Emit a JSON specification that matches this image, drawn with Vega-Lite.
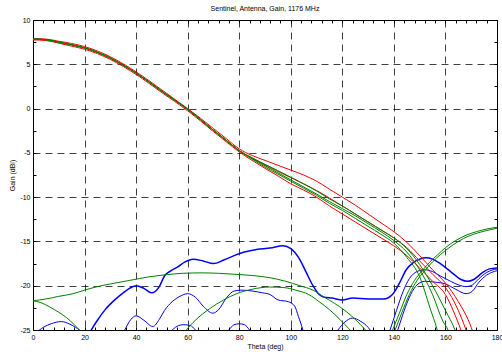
{
 "$schema": "https://vega.github.io/schema/vega-lite/v6.json",
 "width": 464, "height": 310,
 "autosize": {"type": "none"},
 "padding": {"left": 33, "top": 20, "right": 5, "bottom": 22},
 "background": "white",
 "title": {"text": "Sentinel, Antenna, Gain, 1176 MHz", "fontSize": 7, "font": "Liberation Sans", "fontWeight": "normal", "color": "#000", "offset": 4, "anchor": "middle"},
 "config": {"view": {"stroke": "#000", "strokeWidth": 1}},
 "data": {"values": [
  {"id":"B6","set":"set3","theta":0,"gain":-25.3},{"id":"B6","set":"set3","theta":2.5,"gain":-25.0},{"id":"B6","set":"set3","theta":4,"gain":-24.7},{"id":"B6","set":"set3","theta":7,"gain":-24.3},{"id":"B6","set":"set3","theta":11,"gain":-24.05},{"id":"B6","set":"set3","theta":14,"gain":-24.3},{"id":"B6","set":"set3","theta":16.5,"gain":-24.7},{"id":"B6","set":"set3","theta":18,"gain":-25.0},{"id":"B6","set":"set3","theta":20,"gain":-25.6},
  {"id":"B7","set":"set3","theta":50,"gain":-26.5},{"id":"B7","set":"set3","theta":54,"gain":-25},{"id":"B7","set":"set3","theta":56.5,"gain":-24.5},{"id":"B7","set":"set3","theta":58.5,"gain":-24.4},{"id":"B7","set":"set3","theta":61,"gain":-24.5},{"id":"B7","set":"set3","theta":63,"gain":-25},{"id":"B7","set":"set3","theta":66,"gain":-26.5},{"id":"B7","set":"set3","theta":72,"gain":-26.5},{"id":"B7","set":"set3","theta":76,"gain":-25},{"id":"B7","set":"set3","theta":78,"gain":-24.4},{"id":"B7","set":"set3","theta":80,"gain":-24.3},{"id":"B7","set":"set3","theta":82,"gain":-24.4},{"id":"B7","set":"set3","theta":84,"gain":-25},{"id":"B7","set":"set3","theta":87,"gain":-26.5},
  {"id":"B5","set":"set3","theta":34,"gain":-26},{"id":"B5","set":"set3","theta":35.6,"gain":-25},{"id":"B5","set":"set3","theta":38,"gain":-23.8},{"id":"B5","set":"set3","theta":40,"gain":-23.4},{"id":"B5","set":"set3","theta":43,"gain":-23.9},{"id":"B5","set":"set3","theta":46.5,"gain":-24.6},{"id":"B5","set":"set3","theta":49,"gain":-23.8},{"id":"B5","set":"set3","theta":51,"gain":-22.8},{"id":"B5","set":"set3","theta":54,"gain":-21.8},{"id":"B5","set":"set3","theta":57,"gain":-21.2},{"id":"B5","set":"set3","theta":60,"gain":-20.9},{"id":"B5","set":"set3","theta":63,"gain":-21.3},{"id":"B5","set":"set3","theta":66,"gain":-22.3},{"id":"B5","set":"set3","theta":69.8,"gain":-23.1},{"id":"B5","set":"set3","theta":72,"gain":-22.7},{"id":"B5","set":"set3","theta":75,"gain":-21.4},{"id":"B5","set":"set3","theta":78,"gain":-20.6},{"id":"B5","set":"set3","theta":81,"gain":-20.5},{"id":"B5","set":"set3","theta":85,"gain":-20.6},{"id":"B5","set":"set3","theta":89,"gain":-20.8},{"id":"B5","set":"set3","theta":92,"gain":-21.0},{"id":"B5","set":"set3","theta":95,"gain":-21.6},{"id":"B5","set":"set3","theta":99,"gain":-21.8},{"id":"B5","set":"set3","theta":101.5,"gain":-22.3},{"id":"B5","set":"set3","theta":103,"gain":-23.5},{"id":"B5","set":"set3","theta":104.7,"gain":-25},{"id":"B5","set":"set3","theta":106,"gain":-26.5},
  {"id":"B4","set":"set3","theta":116,"gain":-26},{"id":"B4","set":"set3","theta":118.3,"gain":-25},{"id":"B4","set":"set3","theta":121,"gain":-24.1},{"id":"B4","set":"set3","theta":124,"gain":-23.65},{"id":"B4","set":"set3","theta":127,"gain":-24.0},{"id":"B4","set":"set3","theta":130,"gain":-24.7},{"id":"B4","set":"set3","theta":132,"gain":-25.5},
  {"id":"B2","set":"set3","theta":136,"gain":-27},{"id":"B2","set":"set3","theta":138.5,"gain":-25},{"id":"B2","set":"set3","theta":141,"gain":-22.8},{"id":"B2","set":"set3","theta":143.5,"gain":-20.7},{"id":"B2","set":"set3","theta":146,"gain":-19.2},{"id":"B2","set":"set3","theta":149,"gain":-18.4},{"id":"B2","set":"set3","theta":152,"gain":-18.2},{"id":"B2","set":"set3","theta":155,"gain":-18.4},{"id":"B2","set":"set3","theta":158,"gain":-18.9},{"id":"B2","set":"set3","theta":162,"gain":-19.5},{"id":"B2","set":"set3","theta":165,"gain":-19.9},{"id":"B2","set":"set3","theta":168,"gain":-20.1},{"id":"B2","set":"set3","theta":170.5,"gain":-19.9},{"id":"B2","set":"set3","theta":173,"gain":-19.2},{"id":"B2","set":"set3","theta":176,"gain":-18.5},{"id":"B2","set":"set3","theta":180,"gain":-18.1},
  {"id":"B3","set":"set3","theta":139,"gain":-27},{"id":"B3","set":"set3","theta":141.5,"gain":-25},{"id":"B3","set":"set3","theta":144,"gain":-22.8},{"id":"B3","set":"set3","theta":146.5,"gain":-21.0},{"id":"B3","set":"set3","theta":149,"gain":-19.9},{"id":"B3","set":"set3","theta":152,"gain":-19.5},{"id":"B3","set":"set3","theta":156,"gain":-19.6},{"id":"B3","set":"set3","theta":160,"gain":-19.8},{"id":"B3","set":"set3","theta":164,"gain":-20.4},{"id":"B3","set":"set3","theta":168,"gain":-20.9},{"id":"B3","set":"set3","theta":170.5,"gain":-20.6},{"id":"B3","set":"set3","theta":173,"gain":-19.6},{"id":"B3","set":"set3","theta":176,"gain":-18.8},{"id":"B3","set":"set3","theta":180,"gain":-18.3},
  {"id":"B1","set":"set3","theta":20,"gain":-26.5},{"id":"B1","set":"set3","theta":22.6,"gain":-25},{"id":"B1","set":"set3","theta":25,"gain":-23.9},{"id":"B1","set":"set3","theta":28,"gain":-22.7},{"id":"B1","set":"set3","theta":31.7,"gain":-21.6},{"id":"B1","set":"set3","theta":35,"gain":-20.8},{"id":"B1","set":"set3","theta":38,"gain":-20.2},{"id":"B1","set":"set3","theta":40,"gain":-20.0},{"id":"B1","set":"set3","theta":43,"gain":-20.3},{"id":"B1","set":"set3","theta":46,"gain":-20.8},{"id":"B1","set":"set3","theta":49,"gain":-20.1},{"id":"B1","set":"set3","theta":51,"gain":-18.9},{"id":"B1","set":"set3","theta":53,"gain":-18.4},{"id":"B1","set":"set3","theta":56,"gain":-17.9},{"id":"B1","set":"set3","theta":59,"gain":-17.3},{"id":"B1","set":"set3","theta":62,"gain":-17.0},{"id":"B1","set":"set3","theta":66,"gain":-17.2},{"id":"B1","set":"set3","theta":70,"gain":-17.5},{"id":"B1","set":"set3","theta":74,"gain":-17.1},{"id":"B1","set":"set3","theta":78,"gain":-16.6},{"id":"B1","set":"set3","theta":82,"gain":-16.2},{"id":"B1","set":"set3","theta":86.7,"gain":-15.9},{"id":"B1","set":"set3","theta":92,"gain":-15.75},{"id":"B1","set":"set3","theta":97,"gain":-15.5},{"id":"B1","set":"set3","theta":100,"gain":-15.8},{"id":"B1","set":"set3","theta":103,"gain":-16.8},{"id":"B1","set":"set3","theta":106,"gain":-18.5},{"id":"B1","set":"set3","theta":108.6,"gain":-20.0},{"id":"B1","set":"set3","theta":111,"gain":-21.0},{"id":"B1","set":"set3","theta":113,"gain":-21.3},{"id":"B1","set":"set3","theta":116,"gain":-21.4},{"id":"B1","set":"set3","theta":120,"gain":-21.6},{"id":"B1","set":"set3","theta":124,"gain":-21.4},{"id":"B1","set":"set3","theta":130,"gain":-21.5},{"id":"B1","set":"set3","theta":136,"gain":-21.5},{"id":"B1","set":"set3","theta":139.7,"gain":-20.9},{"id":"B1","set":"set3","theta":142,"gain":-19.8},{"id":"B1","set":"set3","theta":144.8,"gain":-18.2},{"id":"B1","set":"set3","theta":147.5,"gain":-17.4},{"id":"B1","set":"set3","theta":150,"gain":-17.0},{"id":"B1","set":"set3","theta":152.5,"gain":-16.85},{"id":"B1","set":"set3","theta":155,"gain":-17.0},{"id":"B1","set":"set3","theta":158,"gain":-17.5},{"id":"B1","set":"set3","theta":162,"gain":-18.4},{"id":"B1","set":"set3","theta":166,"gain":-19.3},{"id":"B1","set":"set3","theta":168.5,"gain":-19.5},{"id":"B1","set":"set3","theta":171,"gain":-19.3},{"id":"B1","set":"set3","theta":174,"gain":-18.6},{"id":"B1","set":"set3","theta":177,"gain":-18.1},{"id":"B1","set":"set3","theta":180,"gain":-18.0},
  {"id":"R1","set":"set1","theta":0,"gain":7.9},{"id":"R1","set":"set1","theta":5,"gain":7.85},{"id":"R1","set":"set1","theta":10,"gain":7.6},{"id":"R1","set":"set1","theta":15,"gain":7.35},{"id":"R1","set":"set1","theta":20,"gain":7.0},{"id":"R1","set":"set1","theta":25,"gain":6.5},{"id":"R1","set":"set1","theta":30,"gain":5.85},{"id":"R1","set":"set1","theta":35,"gain":5.05},{"id":"R1","set":"set1","theta":40,"gain":4.15},{"id":"R1","set":"set1","theta":45,"gain":3.15},{"id":"R1","set":"set1","theta":50,"gain":2.1},{"id":"R1","set":"set1","theta":55,"gain":1.05},{"id":"R1","set":"set1","theta":60,"gain":0.0},{"id":"R1","set":"set1","theta":65,"gain":-1.1},{"id":"R1","set":"set1","theta":70,"gain":-2.25},{"id":"R1","set":"set1","theta":75,"gain":-3.4},{"id":"R1","set":"set1","theta":80,"gain":-4.55},{"id":"R1","set":"set1","theta":85,"gain":-5.3},{"id":"R1","set":"set1","theta":90,"gain":-5.85},{"id":"R1","set":"set1","theta":95,"gain":-6.4},{"id":"R1","set":"set1","theta":100,"gain":-6.95},{"id":"R1","set":"set1","theta":105,"gain":-7.5},{"id":"R1","set":"set1","theta":110,"gain":-8.2},{"id":"R1","set":"set1","theta":115,"gain":-9.1},{"id":"R1","set":"set1","theta":120,"gain":-10.0},{"id":"R1","set":"set1","theta":125,"gain":-10.9},{"id":"R1","set":"set1","theta":130,"gain":-11.9},{"id":"R1","set":"set1","theta":135,"gain":-12.9},{"id":"R1","set":"set1","theta":140,"gain":-13.9},{"id":"R1","set":"set1","theta":145,"gain":-15.1},{"id":"R1","set":"set1","theta":150,"gain":-16.6},{"id":"R1","set":"set1","theta":155,"gain":-18.2},{"id":"R1","set":"set1","theta":160,"gain":-19.7},{"id":"R1","set":"set1","theta":165,"gain":-21.8},{"id":"R1","set":"set1","theta":170,"gain":-24.7},{"id":"R1","set":"set1","theta":173,"gain":-27.5},
  {"id":"R2","set":"set1","theta":0,"gain":7.85},{"id":"R2","set":"set1","theta":5,"gain":7.78},{"id":"R2","set":"set1","theta":10,"gain":7.5},{"id":"R2","set":"set1","theta":15,"gain":7.2},{"id":"R2","set":"set1","theta":20,"gain":6.85},{"id":"R2","set":"set1","theta":25,"gain":6.35},{"id":"R2","set":"set1","theta":30,"gain":5.7},{"id":"R2","set":"set1","theta":35,"gain":4.9},{"id":"R2","set":"set1","theta":40,"gain":4.0},{"id":"R2","set":"set1","theta":45,"gain":3.0},{"id":"R2","set":"set1","theta":50,"gain":1.95},{"id":"R2","set":"set1","theta":55,"gain":0.95},{"id":"R2","set":"set1","theta":60,"gain":-0.1},{"id":"R2","set":"set1","theta":65,"gain":-1.25},{"id":"R2","set":"set1","theta":70,"gain":-2.45},{"id":"R2","set":"set1","theta":75,"gain":-3.6},{"id":"R2","set":"set1","theta":80,"gain":-4.75},{"id":"R2","set":"set1","theta":85,"gain":-5.6},{"id":"R2","set":"set1","theta":90,"gain":-6.35},{"id":"R2","set":"set1","theta":95,"gain":-7.1},{"id":"R2","set":"set1","theta":100,"gain":-7.8},{"id":"R2","set":"set1","theta":105,"gain":-8.5},{"id":"R2","set":"set1","theta":110,"gain":-9.25},{"id":"R2","set":"set1","theta":115,"gain":-10.1},{"id":"R2","set":"set1","theta":120,"gain":-11.0},{"id":"R2","set":"set1","theta":125,"gain":-11.9},{"id":"R2","set":"set1","theta":130,"gain":-12.8},{"id":"R2","set":"set1","theta":135,"gain":-13.7},{"id":"R2","set":"set1","theta":140,"gain":-14.6},{"id":"R2","set":"set1","theta":145,"gain":-15.7},{"id":"R2","set":"set1","theta":150,"gain":-17.2},{"id":"R2","set":"set1","theta":155,"gain":-18.7},{"id":"R2","set":"set1","theta":160,"gain":-20.2},{"id":"R2","set":"set1","theta":165,"gain":-22.8},{"id":"R2","set":"set1","theta":168,"gain":-25.0},{"id":"R2","set":"set1","theta":171,"gain":-27.5},
  {"id":"R3","set":"set1","theta":0,"gain":7.75},{"id":"R3","set":"set1","theta":5,"gain":7.68},{"id":"R3","set":"set1","theta":10,"gain":7.38},{"id":"R3","set":"set1","theta":15,"gain":7.05},{"id":"R3","set":"set1","theta":20,"gain":6.7},{"id":"R3","set":"set1","theta":25,"gain":6.2},{"id":"R3","set":"set1","theta":30,"gain":5.55},{"id":"R3","set":"set1","theta":35,"gain":4.75},{"id":"R3","set":"set1","theta":40,"gain":3.85},{"id":"R3","set":"set1","theta":45,"gain":2.85},{"id":"R3","set":"set1","theta":50,"gain":1.8},{"id":"R3","set":"set1","theta":55,"gain":0.8},{"id":"R3","set":"set1","theta":60,"gain":-0.25},{"id":"R3","set":"set1","theta":65,"gain":-1.4},{"id":"R3","set":"set1","theta":70,"gain":-2.6},{"id":"R3","set":"set1","theta":75,"gain":-3.75},{"id":"R3","set":"set1","theta":80,"gain":-4.9},{"id":"R3","set":"set1","theta":85,"gain":-5.85},{"id":"R3","set":"set1","theta":90,"gain":-6.75},{"id":"R3","set":"set1","theta":95,"gain":-7.6},{"id":"R3","set":"set1","theta":100,"gain":-8.5},{"id":"R3","set":"set1","theta":105,"gain":-9.2},{"id":"R3","set":"set1","theta":110,"gain":-10.0},{"id":"R3","set":"set1","theta":115,"gain":-11.0},{"id":"R3","set":"set1","theta":120,"gain":-11.9},{"id":"R3","set":"set1","theta":125,"gain":-12.8},{"id":"R3","set":"set1","theta":130,"gain":-13.7},{"id":"R3","set":"set1","theta":135,"gain":-14.6},{"id":"R3","set":"set1","theta":140,"gain":-15.5},{"id":"R3","set":"set1","theta":145,"gain":-16.6},{"id":"R3","set":"set1","theta":150,"gain":-18.0},{"id":"R3","set":"set1","theta":155,"gain":-19.5},{"id":"R3","set":"set1","theta":160,"gain":-21.0},{"id":"R3","set":"set1","theta":163,"gain":-22.8},{"id":"R3","set":"set1","theta":166,"gain":-25.0},{"id":"R3","set":"set1","theta":169,"gain":-27.5},
  {"id":"GL1","set":"set2","theta":0,"gain":-21.7},{"id":"GL1","set":"set2","theta":5,"gain":-21.5},{"id":"GL1","set":"set2","theta":10,"gain":-21.2},{"id":"GL1","set":"set2","theta":15.5,"gain":-20.9},{"id":"GL1","set":"set2","theta":20,"gain":-20.5},{"id":"GL1","set":"set2","theta":25,"gain":-20.1},{"id":"GL1","set":"set2","theta":30,"gain":-19.8},{"id":"GL1","set":"set2","theta":37.5,"gain":-19.4},{"id":"GL1","set":"set2","theta":45,"gain":-19.0},{"id":"GL1","set":"set2","theta":52,"gain":-18.75},{"id":"GL1","set":"set2","theta":58,"gain":-18.6},{"id":"GL1","set":"set2","theta":66,"gain":-18.55},{"id":"GL1","set":"set2","theta":72,"gain":-18.6},{"id":"GL1","set":"set2","theta":78,"gain":-18.7},{"id":"GL1","set":"set2","theta":85,"gain":-18.85},{"id":"GL1","set":"set2","theta":92,"gain":-19.1},{"id":"GL1","set":"set2","theta":98,"gain":-19.5},{"id":"GL1","set":"set2","theta":103.5,"gain":-20.0},{"id":"GL1","set":"set2","theta":108.6,"gain":-20.5},{"id":"GL1","set":"set2","theta":113,"gain":-21.3},{"id":"GL1","set":"set2","theta":117,"gain":-22.0},{"id":"GL1","set":"set2","theta":121,"gain":-22.8},{"id":"GL1","set":"set2","theta":125,"gain":-23.8},{"id":"GL1","set":"set2","theta":129,"gain":-25},{"id":"GL1","set":"set2","theta":132,"gain":-26},
  {"id":"GL2","set":"set2","theta":0,"gain":-21.7},{"id":"GL2","set":"set2","theta":3,"gain":-21.9},{"id":"GL2","set":"set2","theta":6.5,"gain":-22.4},{"id":"GL2","set":"set2","theta":10,"gain":-23.0},{"id":"GL2","set":"set2","theta":13,"gain":-23.6},{"id":"GL2","set":"set2","theta":16,"gain":-24.4},{"id":"GL2","set":"set2","theta":18,"gain":-25},{"id":"GL2","set":"set2","theta":20,"gain":-25.8},
  {"id":"GL3","set":"set2","theta":56,"gain":-26.5},{"id":"GL3","set":"set2","theta":59.5,"gain":-25},{"id":"GL3","set":"set2","theta":63,"gain":-23.9},{"id":"GL3","set":"set2","theta":68.5,"gain":-22.6},{"id":"GL3","set":"set2","theta":74,"gain":-21.6},{"id":"GL3","set":"set2","theta":79,"gain":-20.9},{"id":"GL3","set":"set2","theta":85,"gain":-20.4},{"id":"GL3","set":"set2","theta":91.8,"gain":-20.15},{"id":"GL3","set":"set2","theta":97,"gain":-20.2},{"id":"GL3","set":"set2","theta":102,"gain":-20.5},{"id":"GL3","set":"set2","theta":107,"gain":-21.0},{"id":"GL3","set":"set2","theta":111,"gain":-21.8},{"id":"GL3","set":"set2","theta":115,"gain":-22.7},{"id":"GL3","set":"set2","theta":119,"gain":-23.8},{"id":"GL3","set":"set2","theta":123,"gain":-25},{"id":"GL3","set":"set2","theta":126,"gain":-26},
  {"id":"GR1","set":"set2","theta":136,"gain":-27.5},{"id":"GR1","set":"set2","theta":139.5,"gain":-25},{"id":"GR1","set":"set2","theta":142,"gain":-23.2},{"id":"GR1","set":"set2","theta":145,"gain":-21.0},{"id":"GR1","set":"set2","theta":148,"gain":-19.4},{"id":"GR1","set":"set2","theta":151,"gain":-18.3},{"id":"GR1","set":"set2","theta":154,"gain":-17.3},{"id":"GR1","set":"set2","theta":157,"gain":-16.5},{"id":"GR1","set":"set2","theta":160,"gain":-15.7},{"id":"GR1","set":"set2","theta":164,"gain":-14.9},{"id":"GR1","set":"set2","theta":168,"gain":-14.3},{"id":"GR1","set":"set2","theta":172,"gain":-13.9},{"id":"GR1","set":"set2","theta":176,"gain":-13.6},{"id":"GR1","set":"set2","theta":180,"gain":-13.4},
  {"id":"GR2","set":"set2","theta":137.5,"gain":-27},{"id":"GR2","set":"set2","theta":140.5,"gain":-25},{"id":"GR2","set":"set2","theta":143,"gain":-23.1},{"id":"GR2","set":"set2","theta":146,"gain":-21.0},{"id":"GR2","set":"set2","theta":149,"gain":-19.4},{"id":"GR2","set":"set2","theta":152,"gain":-18.3},{"id":"GR2","set":"set2","theta":155,"gain":-17.3},{"id":"GR2","set":"set2","theta":158,"gain":-16.5},{"id":"GR2","set":"set2","theta":161,"gain":-15.8},{"id":"GR2","set":"set2","theta":165,"gain":-15.0},{"id":"GR2","set":"set2","theta":169,"gain":-14.4},{"id":"GR2","set":"set2","theta":173,"gain":-14.0},{"id":"GR2","set":"set2","theta":177,"gain":-13.7},{"id":"GR2","set":"set2","theta":180,"gain":-13.5},
  {"id":"G1","set":"set2","theta":0,"gain":7.85},{"id":"G1","set":"set2","theta":5,"gain":7.78},{"id":"G1","set":"set2","theta":10,"gain":7.5},{"id":"G1","set":"set2","theta":15,"gain":7.2},{"id":"G1","set":"set2","theta":20,"gain":6.85},{"id":"G1","set":"set2","theta":25,"gain":6.35},{"id":"G1","set":"set2","theta":30,"gain":5.7},{"id":"G1","set":"set2","theta":35,"gain":4.9},{"id":"G1","set":"set2","theta":40,"gain":4.0},{"id":"G1","set":"set2","theta":45,"gain":3.0},{"id":"G1","set":"set2","theta":50,"gain":1.95},{"id":"G1","set":"set2","theta":55,"gain":0.95},{"id":"G1","set":"set2","theta":60,"gain":-0.1},{"id":"G1","set":"set2","theta":65,"gain":-1.25},{"id":"G1","set":"set2","theta":70,"gain":-2.45},{"id":"G1","set":"set2","theta":75,"gain":-3.6},{"id":"G1","set":"set2","theta":80,"gain":-4.75},{"id":"G1","set":"set2","theta":85,"gain":-5.55},{"id":"G1","set":"set2","theta":90,"gain":-6.3},{"id":"G1","set":"set2","theta":95,"gain":-7.0},{"id":"G1","set":"set2","theta":100,"gain":-7.75},{"id":"G1","set":"set2","theta":105,"gain":-8.5},{"id":"G1","set":"set2","theta":110,"gain":-9.3},{"id":"G1","set":"set2","theta":115,"gain":-10.2},{"id":"G1","set":"set2","theta":120,"gain":-11.0},{"id":"G1","set":"set2","theta":125,"gain":-11.9},{"id":"G1","set":"set2","theta":130,"gain":-12.8},{"id":"G1","set":"set2","theta":135,"gain":-13.7},{"id":"G1","set":"set2","theta":140,"gain":-14.6},{"id":"G1","set":"set2","theta":145,"gain":-15.8},{"id":"G1","set":"set2","theta":150,"gain":-17.6},{"id":"G1","set":"set2","theta":155,"gain":-20.0},{"id":"G1","set":"set2","theta":160,"gain":-22.8},{"id":"G1","set":"set2","theta":163.7,"gain":-25},{"id":"G1","set":"set2","theta":166,"gain":-27},
  {"id":"G2","set":"set2","theta":0,"gain":7.85},{"id":"G2","set":"set2","theta":5,"gain":7.78},{"id":"G2","set":"set2","theta":10,"gain":7.5},{"id":"G2","set":"set2","theta":15,"gain":7.2},{"id":"G2","set":"set2","theta":20,"gain":6.85},{"id":"G2","set":"set2","theta":25,"gain":6.35},{"id":"G2","set":"set2","theta":30,"gain":5.7},{"id":"G2","set":"set2","theta":35,"gain":4.9},{"id":"G2","set":"set2","theta":40,"gain":4.0},{"id":"G2","set":"set2","theta":45,"gain":3.0},{"id":"G2","set":"set2","theta":50,"gain":1.95},{"id":"G2","set":"set2","theta":55,"gain":0.95},{"id":"G2","set":"set2","theta":60,"gain":-0.1},{"id":"G2","set":"set2","theta":65,"gain":-1.25},{"id":"G2","set":"set2","theta":70,"gain":-2.45},{"id":"G2","set":"set2","theta":75,"gain":-3.6},{"id":"G2","set":"set2","theta":80,"gain":-4.75},{"id":"G2","set":"set2","theta":85,"gain":-5.65},{"id":"G2","set":"set2","theta":90,"gain":-6.45},{"id":"G2","set":"set2","theta":95,"gain":-7.25},{"id":"G2","set":"set2","theta":100,"gain":-8.05},{"id":"G2","set":"set2","theta":105,"gain":-8.85},{"id":"G2","set":"set2","theta":110,"gain":-9.65},{"id":"G2","set":"set2","theta":115,"gain":-10.5},{"id":"G2","set":"set2","theta":120,"gain":-11.3},{"id":"G2","set":"set2","theta":125,"gain":-12.1},{"id":"G2","set":"set2","theta":130,"gain":-13.0},{"id":"G2","set":"set2","theta":135,"gain":-13.9},{"id":"G2","set":"set2","theta":140,"gain":-14.9},{"id":"G2","set":"set2","theta":145,"gain":-16.2},{"id":"G2","set":"set2","theta":150,"gain":-18.2},{"id":"G2","set":"set2","theta":155,"gain":-21.0},{"id":"G2","set":"set2","theta":159,"gain":-24.0},{"id":"G2","set":"set2","theta":161,"gain":-25},{"id":"G2","set":"set2","theta":163,"gain":-27},
  {"id":"G3","set":"set2","theta":0,"gain":7.85},{"id":"G3","set":"set2","theta":5,"gain":7.78},{"id":"G3","set":"set2","theta":10,"gain":7.5},{"id":"G3","set":"set2","theta":15,"gain":7.2},{"id":"G3","set":"set2","theta":20,"gain":6.85},{"id":"G3","set":"set2","theta":25,"gain":6.35},{"id":"G3","set":"set2","theta":30,"gain":5.7},{"id":"G3","set":"set2","theta":35,"gain":4.9},{"id":"G3","set":"set2","theta":40,"gain":4.0},{"id":"G3","set":"set2","theta":45,"gain":3.0},{"id":"G3","set":"set2","theta":50,"gain":1.95},{"id":"G3","set":"set2","theta":55,"gain":0.95},{"id":"G3","set":"set2","theta":60,"gain":-0.1},{"id":"G3","set":"set2","theta":65,"gain":-1.25},{"id":"G3","set":"set2","theta":70,"gain":-2.45},{"id":"G3","set":"set2","theta":75,"gain":-3.6},{"id":"G3","set":"set2","theta":80,"gain":-4.75},{"id":"G3","set":"set2","theta":85,"gain":-5.7},{"id":"G3","set":"set2","theta":90,"gain":-6.6},{"id":"G3","set":"set2","theta":95,"gain":-7.4},{"id":"G3","set":"set2","theta":100,"gain":-8.2},{"id":"G3","set":"set2","theta":105,"gain":-9.0},{"id":"G3","set":"set2","theta":110,"gain":-9.8},{"id":"G3","set":"set2","theta":115,"gain":-10.7},{"id":"G3","set":"set2","theta":120,"gain":-11.5},{"id":"G3","set":"set2","theta":125,"gain":-12.4},{"id":"G3","set":"set2","theta":130,"gain":-13.3},{"id":"G3","set":"set2","theta":135,"gain":-14.2},{"id":"G3","set":"set2","theta":140,"gain":-15.2},{"id":"G3","set":"set2","theta":145,"gain":-16.8},{"id":"G3","set":"set2","theta":150,"gain":-19.0},{"id":"G3","set":"set2","theta":154,"gain":-22.5},{"id":"G3","set":"set2","theta":156.8,"gain":-25},{"id":"G3","set":"set2","theta":158.5,"gain":-27}
 ]},
 "layer": [
  {
   "mark": {"type": "line", "clip": true, "interpolate": "monotone"},
   "encoding": {
    "x": {"field": "theta", "type": "quantitative", "scale": {"domain": [0, 180], "nice": false, "zero": false},
     "axis": {"orient": "bottom", "values": [0,4,8,12,16,20,24,28,32,36,40,44,48,52,56,60,64,68,72,76,80,84,88,92,96,100,104,108,112,116,120,124,128,132,136,140,144,148,152,156,160,164,168,172,176,180],
      "labelExpr": "datum.value % 20 === 0 ? '' + datum.value : ''",
      "grid": true, "gridDash": [7, 5], "gridColor": "#000", "gridWidth": 1,
      "gridOpacity": {"condition": {"test": "datum.value % 20 === 0 && datum.value > 0 && datum.value < 180", "value": 0.75}, "value": 0},
      "tickSize": -3, "tickColor": "#000", "tickWidth": 1, "domain": false,
      "labelFont": "Liberation Sans", "labelFontSize": 7, "labelColor": "#000", "labelPadding": 6, "labelFlush": false, "labelOverlap": false,
      "title": "Theta (deg)", "titleFont": "Liberation Sans", "titleFontSize": 7, "titleFontWeight": "normal", "titleColor": "#000", "titlePadding": 2}},
    "y": {"field": "gain", "type": "quantitative", "scale": {"domain": [-25, 10], "nice": false, "zero": false},
     "axis": {"orient": "left", "values": [-25,-22.5,-20,-17.5,-15,-12.5,-10,-7.5,-5,-2.5,0,2.5,5,7.5,10],
      "labelExpr": "datum.value % 5 === 0 ? '' + datum.value : ''",
      "grid": true, "gridDash": [7, 5], "gridColor": "#000", "gridWidth": 1,
      "gridOpacity": {"condition": {"test": "datum.value % 5 === 0 && datum.value > -25 && datum.value < 10", "value": 0.75}, "value": 0},
      "tickSize": -3, "tickColor": "#000", "tickWidth": 1, "domain": false,
      "labelFont": "Liberation Sans", "labelFontSize": 7, "labelColor": "#000", "labelPadding": 6, "labelFlush": false, "labelOverlap": false,
      "title": "Gain (dBi)", "titleFont": "Liberation Sans", "titleFontSize": 7, "titleFontWeight": "normal", "titleColor": "#000", "titlePadding": 4}},
    "color": {"field": "set", "type": "nominal", "scale": {"domain": ["set1", "set2", "set3"], "range": ["#ff0000", "#008000", "#0000ff"]}, "legend": null},
    "detail": {"field": "id", "type": "nominal"},
    "strokeWidth": {"condition": {"test": "datum.id === 'B1'", "value": 1.5}, "value": 1}
   }
  },
  {
   "mark": {"type": "line", "opacity": 0},
   "encoding": {
    "x": {"field": "theta", "type": "quantitative",
     "axis": {"orient": "top", "values": [0,4,8,12,16,20,24,28,32,36,40,44,48,52,56,60,64,68,72,76,80,84,88,92,96,100,104,108,112,116,120,124,128,132,136,140,144,148,152,156,160,164,168,172,176,180],
      "labels": false, "grid": false, "tickSize": -3, "tickColor": "#000", "domain": false, "title": null}},
    "y": {"field": "gain", "type": "quantitative",
     "axis": {"orient": "right", "values": [-25,-22.5,-20,-17.5,-15,-12.5,-10,-7.5,-5,-2.5,0,2.5,5,7.5,10],
      "labels": false, "grid": false, "tickSize": -3, "tickColor": "#000", "domain": false, "title": null}},
    "detail": {"field": "id", "type": "nominal"}
   }
  }
 ],
 "resolve": {"axis": {"x": "independent", "y": "independent"}}
}
